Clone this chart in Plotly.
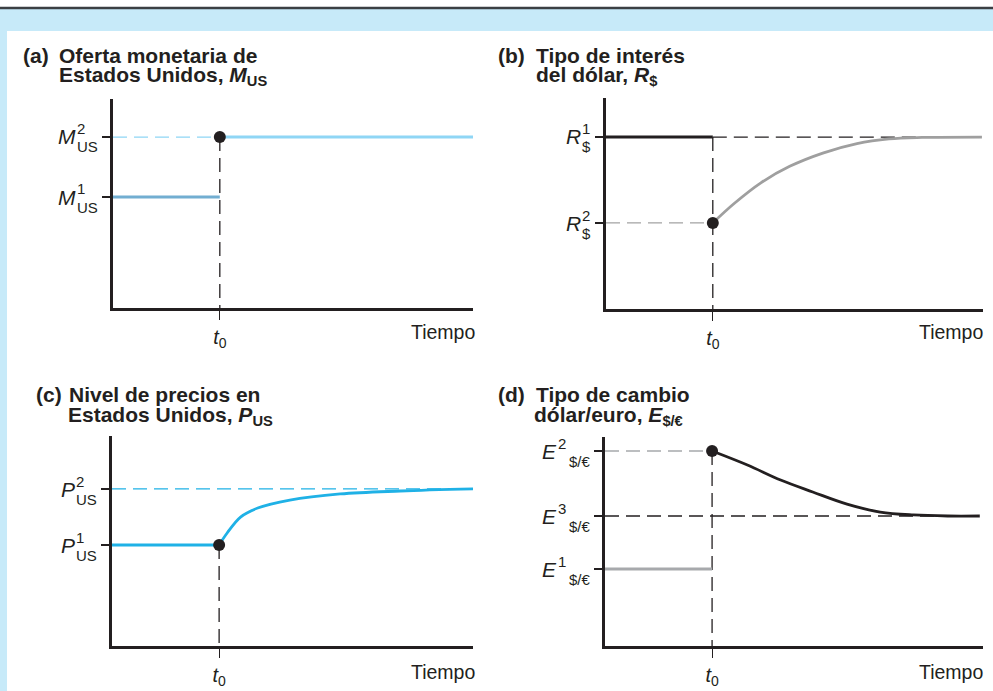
import plotly.graph_objects as go

W, H = 993, 691

# ---- data (arbitrary units) ----
t0 = 1.0
t_end_left = 3.37
t_end_right = 3.53

# (a) money supply: M1, M2
m_levels = [5.31, 8.18]

# (b) dollar interest rate: R1, R2 and the adjustment path
r_levels = [8.15, 4.08]
r_path_t = [1.0, 1.2, 1.45, 1.72, 2.03, 2.35, 2.65, 2.96, 3.52]
r_path_v = [4.08, 5.0, 5.98, 6.76, 7.39, 7.84, 8.06, 8.13, 8.15]

# (c) price level: P1, P2 and the adjustment path
p_levels = [4.81, 7.48]
p_path_t = [1.0, 1.075, 1.2, 1.36, 1.66, 2.13, 2.69, 3.37]
p_path_v = [4.81, 5.38, 6.14, 6.57, 6.95, 7.24, 7.38, 7.48]

# (d) exchange rate: E1, E2, E3 and the adjustment path
e_levels = [3.68, 9.33, 6.22]
e_path_t = [1.0, 1.33, 1.64, 1.94, 2.26, 2.57, 2.88, 3.2, 3.5]
e_path_v = [9.33, 8.66, 7.94, 7.37, 6.79, 6.41, 6.27, 6.22, 6.22]

FONT = 'Liberation Sans, Arial, sans-serif'
INK = '#231f20'
DASH = '14px,7px'


def X(px):
    return px / W


def Y(py):
    return 1 - py / H


def line(xs, ys, ax, color, width, dash=None):
    return go.Scatter(x=xs, y=ys, xaxis='x' + ax, yaxis='y' + ax, mode='lines',
                      line=dict(color=color, width=width, dash=dash),
                      hoverinfo='skip', showlegend=False)


def curve(xs, ys, ax, color):
    return go.Scatter(x=xs, y=ys, xaxis='x' + ax, yaxis='y' + ax, mode='lines',
                      line=dict(color=color, width=2.8, shape='spline', smoothing=1.0),
                      hoverinfo='skip', showlegend=False)


def dot(x, y, ax):
    return go.Scatter(x=[x], y=[y], xaxis='x' + ax, yaxis='y' + ax, mode='markers',
                      marker=dict(color=INK, size=12), hoverinfo='skip', showlegend=False)


fig = go.Figure()

# (a)
fig.add_trace(line([t0, t0], [m_levels[1], 0], '', INK, 1.3, DASH))
fig.add_trace(line([0, t0], [m_levels[1], m_levels[1]], '', '#8fd6f5', 1.3, DASH))
fig.add_trace(line([0, t0], [m_levels[0], m_levels[0]], '', '#72aed1', 3))
fig.add_trace(line([t0, t_end_left], [m_levels[1], m_levels[1]], '', '#8fd6f5', 3))
fig.add_trace(dot(t0, m_levels[1], ''))

# (b)
fig.add_trace(line([t0, t0], [r_levels[0], 0], '2', INK, 1.3, DASH))
fig.add_trace(line([t0, t_end_right], [r_levels[0], r_levels[0]], '2', INK, 1.3, DASH))
fig.add_trace(line([0, t0], [r_levels[1], r_levels[1]], '2', '#a3a3a3', 1.3, DASH))
fig.add_trace(line([0, t0], [r_levels[0], r_levels[0]], '2', INK, 3))
fig.add_trace(curve(r_path_t, r_path_v, '2', '#9f9f9f'))
fig.add_trace(dot(t0, r_levels[1], '2'))

# (c)
fig.add_trace(line([t0, t0], [p_levels[0], 0], '3', INK, 1.3, DASH))
fig.add_trace(line([0, t_end_left], [p_levels[1], p_levels[1]], '3', '#1fb1e6', 1.3, DASH))
fig.add_trace(line([0, t0], [p_levels[0], p_levels[0]], '3', '#1fb1e6', 3))
fig.add_trace(curve(p_path_t, p_path_v, '3', '#1fb1e6'))
fig.add_trace(dot(t0, p_levels[0], '3'))

# (d)
fig.add_trace(line([t0, t0], [e_levels[1], 0], '4', INK, 1.3, DASH))
fig.add_trace(line([0, t0], [e_levels[1], e_levels[1]], '4', '#a7a9ac', 1.3, DASH))
fig.add_trace(line([0, t_end_right], [e_levels[2], e_levels[2]], '4', INK, 1.3, DASH))
fig.add_trace(line([0, t0], [e_levels[0], e_levels[0]], '4', '#a7a9ac', 3))
fig.add_trace(curve(e_path_t, e_path_v, '4', INK))
fig.add_trace(dot(t0, e_levels[1], '4'))


def xaxis(x0, x1, xmax, anchor):
    return dict(domain=[X(x0), X(x1)], range=[0, xmax], anchor=anchor,
                showline=True, linecolor=INK, linewidth=2.5, showgrid=False, zeroline=False,
                ticks='outside', ticklen=9, tickwidth=1.3, tickcolor=INK,
                tickvals=[t0], ticktext=['<i>t</i><sub>0</sub>'],
                tickfont=dict(family=FONT, size=20, color=INK), fixedrange=True)


def yaxis(y_bottom, y_top, levels, anchor):
    return dict(domain=[Y(y_bottom), Y(y_top)], range=[0, 10], anchor=anchor,
                showline=True, linecolor=INK, linewidth=2.5, showgrid=False, zeroline=False,
                ticks='outside', ticklen=8, tickwidth=2, tickcolor=INK,
                tickvals=levels, showticklabels=False, fixedrange=True)


annotations = []


def text(s, px, py, size, xanchor='left', yanchor='middle', bold=False):
    annotations.append(dict(text='<b>' + s + '</b>' if bold else s, x=X(px), y=Y(py),
                            xref='paper', yref='paper', xanchor=xanchor, yanchor=yanchor,
                            showarrow=False, font=dict(family=FONT, size=size, color=INK)))


def level_label(letter, sup, sub, x_right, py, sub_x=None):
    text('<i>' + letter + '</i>', x_right, py, 21, xanchor='right')
    text(sup, x_right - 3, py - 8, 15)
    text(sub, sub_x if sub_x else x_right - 3, py + 10, 15)


# titles
text('(a)', 21, 42, 21, yanchor='top', bold=True)
text('Oferta monetaria de', 57, 42, 21, yanchor='top', bold=True)
text('Estados Unidos, <i>M</i><sub>US</sub>', 57, 61, 21, yanchor='top', bold=True)
text('(b)', 496, 42, 21, yanchor='top', bold=True)
text('Tipo de interés', 534, 42, 21, yanchor='top', bold=True)
text('del dólar, <i>R</i><sub>$</sub>', 534, 61, 21, yanchor='top', bold=True)
text('(c)', 34, 381, 21, yanchor='top', bold=True)
text('Nivel de precios en', 67, 381, 21, yanchor='top', bold=True)
text('Estados Unidos, <i>P</i><sub>US</sub>', 66, 401, 21, yanchor='top', bold=True)
text('(d)', 496, 381, 21, yanchor='top', bold=True)
text('Tipo de cambio', 534, 381, 21, yanchor='top', bold=True)
text('dólar/euro, <i>E</i><sub>$/€</sub>', 532, 401, 21, yanchor='top', bold=True)

# level labels
level_label('M', '2', 'US', 78, 137)
level_label('M', '1', 'US', 78, 197)
level_label('R', '1', '$', 583, 137)
level_label('R', '2', '$', 583, 223)
level_label('P', '2', 'US', 77, 489)
level_label('P', '1', 'US', 77, 545)
level_label('E', '2', '$/€', 559, 451, sub_x=567)
level_label('E', '3', '$/€', 559, 516, sub_x=567)
level_label('E', '1', '$/€', 559, 569, sub_x=567)

# axis names
text('Tiempo', 477, 332, 19.5, xanchor='right')
text('Tiempo', 985, 332, 19.5, xanchor='right')
text('Tiempo', 477, 672, 19.5, xanchor='right')
text('Tiempo', 985, 672, 19.5, xanchor='right')

shapes = [
    dict(type='rect', xref='paper', yref='paper', x0=0, x1=1, y0=0, y1=Y(9),
         fillcolor='#c7eaf9', line_width=0, layer='below'),
    dict(type='rect', xref='paper', yref='paper', x0=X(7), x1=1, y0=0, y1=Y(31),
         fillcolor='white', line_width=0, layer='below'),
    dict(type='line', xref='paper', yref='paper', x0=0, x1=1, y0=Y(8), y1=Y(8),
         line=dict(color='#3b3f43', width=2.5), layer='below'),
]

fig.update_layout(
    width=W, height=H,
    margin=dict(l=0, r=0, t=0, b=0),
    paper_bgcolor='white', plot_bgcolor='rgba(0,0,0,0)',
    showlegend=False,
    xaxis=xaxis(113, 473, t_end_left, 'y'),
    yaxis=yaxis(308, 99, m_levels, 'x'),
    xaxis2=xaxis(606, 983, t_end_right, 'y2'),
    yaxis2=yaxis(309, 98, r_levels, 'x2'),
    xaxis3=xaxis(112, 473, t_end_left, 'y3'),
    yaxis3=yaxis(646, 436, p_levels, 'x3'),
    xaxis4=xaxis(605, 983, t_end_right, 'y4'),
    yaxis4=yaxis(646, 437, e_levels, 'x4'),
    annotations=annotations,
    shapes=shapes,
)

fig.write_html("out.html", config={'displayModeBar': False},
               post_script="document.body.style.margin='0';document.body.style.overflow='hidden';")
